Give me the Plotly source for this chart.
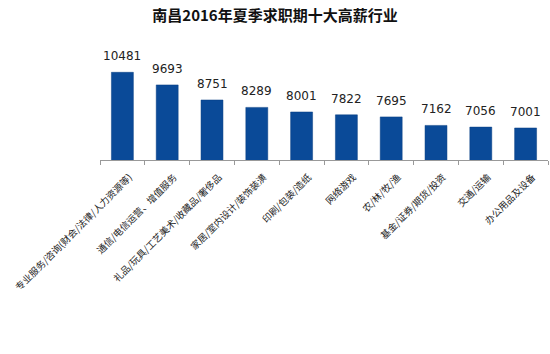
import plotly.graph_objects as go

categories = [
    "专业服务/咨询(财会/法律/人力资源等)",
    "通信/电信运营、增值服务",
    "礼品/玩具/工艺美术/收藏品/奢侈品",
    "家居/室内设计/装饰装潢",
    "印刷/包装/造纸",
    "网络游戏",
    "农/林/牧/渔",
    "基金/证券/期货/投资",
    "交通/运输",
    "办公用品及设备",
]
salaries = [10481, 9693, 8751, 8289, 8001, 7822, 7695, 7162, 7056, 7001]
title_text = "南昌2016年夏季求职期十大高薪行业"

fig = go.Figure()
fig.add_trace(go.Bar(
    x=categories,
    y=salaries,
    marker=dict(color="#0A4A98", line=dict(color="#083E80", width=0.5)),
    hoverinfo="x+y",
))

for cat, val in zip(categories, salaries):
    fig.add_annotation(
        x=cat, y=val, text=str(val), showarrow=False,
        yanchor="bottom", yshift=7,
        font=dict(size=12, color="#222222", family="DejaVu Sans"),
    )

fig.update_layout(
    width=550, height=354,
    margin=dict(l=100, r=2, t=48, b=194),
    paper_bgcolor="white", plot_bgcolor="white",
    bargap=0.51,
    showlegend=False,
    title=dict(text="<b>" + title_text + "</b>", x=0.5, xanchor="center",
               y=0.955, yanchor="middle",
               font=dict(size=15, color="#111111", family="Noto Sans CJK SC")),
    font=dict(family="Noto Sans CJK SC"),
)
fig.update_xaxes(
    tickangle=-45,
    tickfont=dict(size=9.5, color="#222222", family="Noto Sans CJK SC"),
    showline=True, linecolor="#999999", linewidth=1,
    ticks="outside", ticklen=4, tickcolor="#999999",
    tickson="boundaries",
    ticklabelshift=7, ticklabelstandoff=7,
    showgrid=False,
)
fig.update_yaxes(
    range=[5000, 12000],
    visible=False,
    showgrid=False,
)

fig.write_html("out.html")
